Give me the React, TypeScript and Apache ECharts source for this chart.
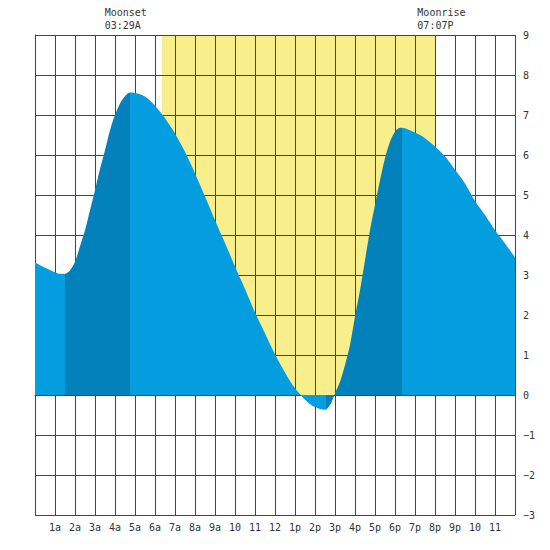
import React, { useEffect, useRef } from "react";
import * as echarts from "echarts";

// Tide height (feet), by hour of day
const tideHours = [
  0, 0.5, 1, 1.25, 1.5, 1.75, 2, 2.25, 2.5, 2.75, 3, 3.25, 3.5, 3.75, 4, 4.25, 4.5, 4.75, 5, 5.25, 5.5, 5.75,
  6, 6.25, 6.5, 6.75, 7, 7.5, 8, 8.5, 9, 9.5, 10, 10.5, 11, 11.5, 12, 12.5, 12.75, 13, 13.25, 13.5, 13.75,
  14, 14.25, 14.5, 14.75, 15, 15.25, 15.5, 15.75, 16, 16.25, 16.5, 16.75, 17, 17.25, 17.5, 17.75, 18, 18.25,
  18.5, 18.75, 19, 19.25, 19.5, 20, 20.5, 21, 21.5, 22, 22.5, 23, 23.5, 24,
];
const tideFeet = [
  3.31, 3.18, 3.07, 3.03, 3.03, 3.12, 3.33, 3.72, 4.12, 4.62, 5.12, 5.65, 6.12, 6.62, 7.0, 7.29, 7.47, 7.56,
  7.55, 7.52, 7.46, 7.36, 7.23, 7.08, 6.92, 6.73, 6.54, 6.08, 5.54, 4.96, 4.37, 3.8, 3.21, 2.65, 2.06, 1.54,
  1.02, 0.56, 0.35, 0.17, 0.02, -0.12, -0.23, -0.3, -0.35, -0.37, -0.25, 0.04, 0.33, 0.75, 1.25, 1.96, 2.62,
  3.37, 4.12, 4.75, 5.37, 5.92, 6.33, 6.58, 6.68, 6.67, 6.62, 6.56, 6.5, 6.42, 6.21, 5.96, 5.63, 5.29, 4.85,
  4.5, 4.12, 3.79, 3.44,
];

const hourLabels = [
  "", "1a", "2a", "3a", "4a", "5a", "6a", "7a", "8a", "9a", "10", "11",
  "12", "1p", "2p", "3p", "4p", "5p", "6p", "7p", "8p", "9p", "10", "11", "",
];

const daylight = [6.35, 20.0];
const floodStarts = [1.5, 14.55];
const floodEnds = [4.75, 18.35];

const moonEventHours = [3.483, 19.117];
const moonEventNames = ["Moonset", "Moonrise"];
const moonEventTimes = ["03:29A", "07:07P"];

const Y_MIN = -3;
const Y_MAX = 9;

const LIGHT = "#049DE0";
const DARK = "#0281BA";
const YELLOW = "#F8EE8C";
const GRID = "#444444";
const FONT = '"DejaVu Sans Mono", monospace';

export default function App() {
  const ref = useRef<HTMLDivElement>(null);

  useEffect(() => {
    if (!ref.current) return;
    const chart = echarts.init(ref.current, null, { renderer: "svg" });

    const pieces: any[] = [];
    let prev = 0;
    floodStarts.forEach((s, i) => {
      pieces.push({ gte: prev, lt: s, color: LIGHT });
      pieces.push({ gte: s, lt: floodEnds[i], color: DARK });
      prev = floodEnds[i];
    });
    pieces.push({ gte: prev, lte: 24, color: LIGHT });

    const option: any = {
      animation: false,
      grid: { left: 35, right: 35, top: 35, bottom: 35, containLabel: false },
      xAxis: {
        type: "value",
        min: 0,
        max: 24,
        interval: 1,
        z: 1,
        axisLine: { show: true, lineStyle: { color: GRID, width: 1 } },
        axisTick: { show: false },
        splitLine: { show: true, lineStyle: { color: GRID, width: 1 } },
        axisLabel: {
          margin: 7,
          color: "#333",
          fontFamily: FONT,
          fontSize: 10,
          showMinLabel: true,
          showMaxLabel: true,
          formatter: (v: number) => hourLabels[Math.round(v)] ?? "",
        },
      },
      yAxis: {
        type: "value",
        position: "right",
        min: Y_MIN,
        max: Y_MAX,
        interval: 1,
        z: 1,
        axisLine: { show: true, lineStyle: { color: GRID, width: 1 } },
        axisTick: { show: false },
        splitLine: { show: true, lineStyle: { color: GRID, width: 1 } },
        axisLabel: {
          margin: 8,
          color: "#333",
          fontFamily: FONT,
          fontSize: 10,
          formatter: (v: number) => String(v).replace("-", "\u2212"),
        },
      },
      visualMap: {
        show: false,
        type: "piecewise",
        dimension: 0,
        seriesIndex: 1,
        pieces,
      },
      series: [
        {
          type: "custom",
          z: 0,
          silent: true,
          encode: { x: [0, 1] },
          data: [[daylight[0], daylight[1]]],
          renderItem: (_p: any, api: any) => {
            const a = api.coord([api.value(0), Y_MAX]);
            const b = api.coord([api.value(1), 0]);
            return {
              type: "rect",
              shape: { x: a[0], y: a[1], width: b[0] - a[0], height: b[1] - a[1] },
              style: { fill: YELLOW },
            };
          },
        },
        {
          type: "line",
          z: 2,
          smooth: 0.3,
          showSymbol: false,
          symbol: "none",
          lineStyle: { width: 0 },
          areaStyle: { opacity: 1 },
          data: tideHours.map((h, i) => [h, tideFeet[i]]),
        },
        {
          type: "custom",
          z: 3,
          silent: true,
          clip: false,
          encode: { x: 0, y: 1 },
          data: moonEventHours.map((h) => [h, Y_MAX]),
          renderItem: (p: any, api: any) => {
            const c = api.coord([api.value(0), api.value(1)]);
            const i = p.dataIndex;
            return {
              type: "text",
              x: c[0],
              y: c[1] - 29,
              style: {
                text: moonEventNames[i] + "\n" + moonEventTimes[i],
                align: "left",
                verticalAlign: "top",
                font: "10px " + FONT,
                fill: "#333",
                lineHeight: 13,
              },
            };
          },
        },
      ],
    };

    chart.setOption(option);
    return () => chart.dispose();
  }, []);

  return (
    <div
      ref={ref}
      style={{ position: "fixed", left: 0, top: 0, width: 550, height: 550, background: "#fff" }}
    />
  );
}
